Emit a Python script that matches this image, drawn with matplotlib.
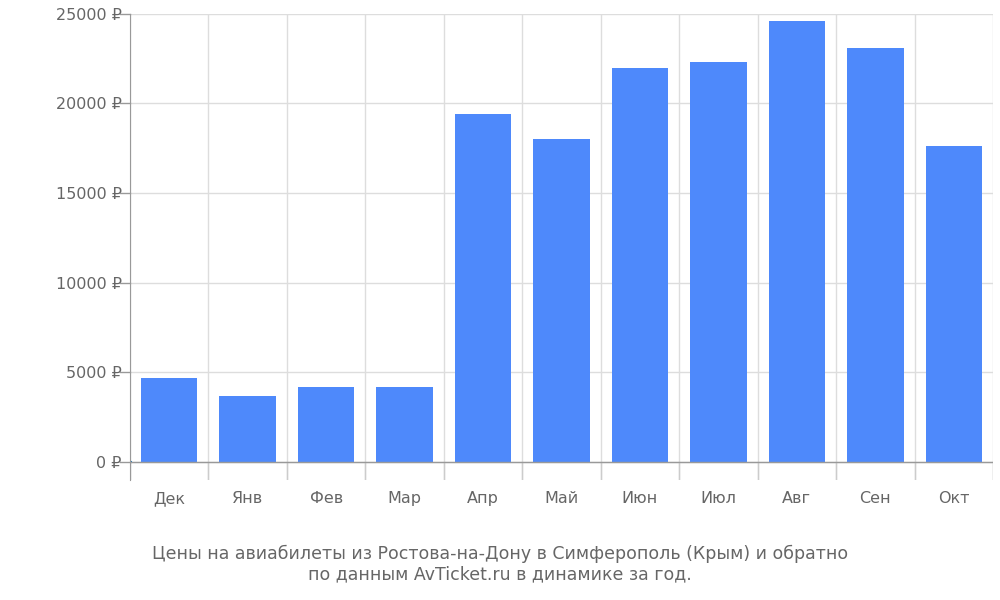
import matplotlib
matplotlib.use("Agg")
import matplotlib.pyplot as plt
import numpy as np

months = ["Дек", "Янв", "Фев", "Мар", "Апр", "Май", "Июн", "Июл", "Авг", "Сен", "Окт"]
prices = [4700, 3700, 4200, 4200, 19400, 18000, 22000, 22300, 24600, 23100, 17600]
yticks = [0, 5000, 10000, 15000, 20000, 25000]

grey = "#666666"
fig = plt.figure(figsize=(10, 6), dpi=100)
ax = fig.add_axes([0.13, 0.2, 0.863, 0.777])

x = np.arange(len(months))
ax.bar(x, prices, width=0.72, color="#4e89fb", zorder=3)

ax.set_xlim(-0.5, len(months) - 0.5)
ax.set_ylim(-1000, 25000)
ax.set_yticks(yticks)
ax.set_yticklabels([f"{v} ₽" for v in yticks], fontsize=11.5, color=grey)
ax.set_xticks(x)
ax.set_xticklabels(months, fontsize=11.5, color=grey)
ax.tick_params(axis="x", length=0, pad=8)
ax.tick_params(axis="y", length=0, pad=6)

# grid
for v in yticks:
    ax.axhline(v, color="#dddddd", lw=1, zorder=1)
ax.axhline(0, color="#999999", lw=1, zorder=4)
for b in np.arange(-0.5, len(months), 1.0):
    ax.axvline(b, color="#dddddd", lw=1, zorder=1)
    ax.plot([b, b], [-1000, 0], color="#cccccc", lw=1, zorder=1)
ax.plot([-0.5, -0.49], [0, 0])
# left spine with small ticks
for v in yticks:
    ax.plot([-0.63, -0.5], [v, v], color="#999999", lw=1, clip_on=False)

for s in ["top", "right", "bottom"]:
    ax.spines[s].set_visible(False)
ax.spines["left"].set_color("#999999")

fig.text(0.5, 0.06, "Цены на авиабилеты из Ростова-на-Дону в Симферополь (Крым) и обратно\nпо данным AvTicket.ru в динамике за год.",
         ha="center", va="center", fontsize=12.5, color=grey, linespacing=1.2)

fig.savefig("out.png")
